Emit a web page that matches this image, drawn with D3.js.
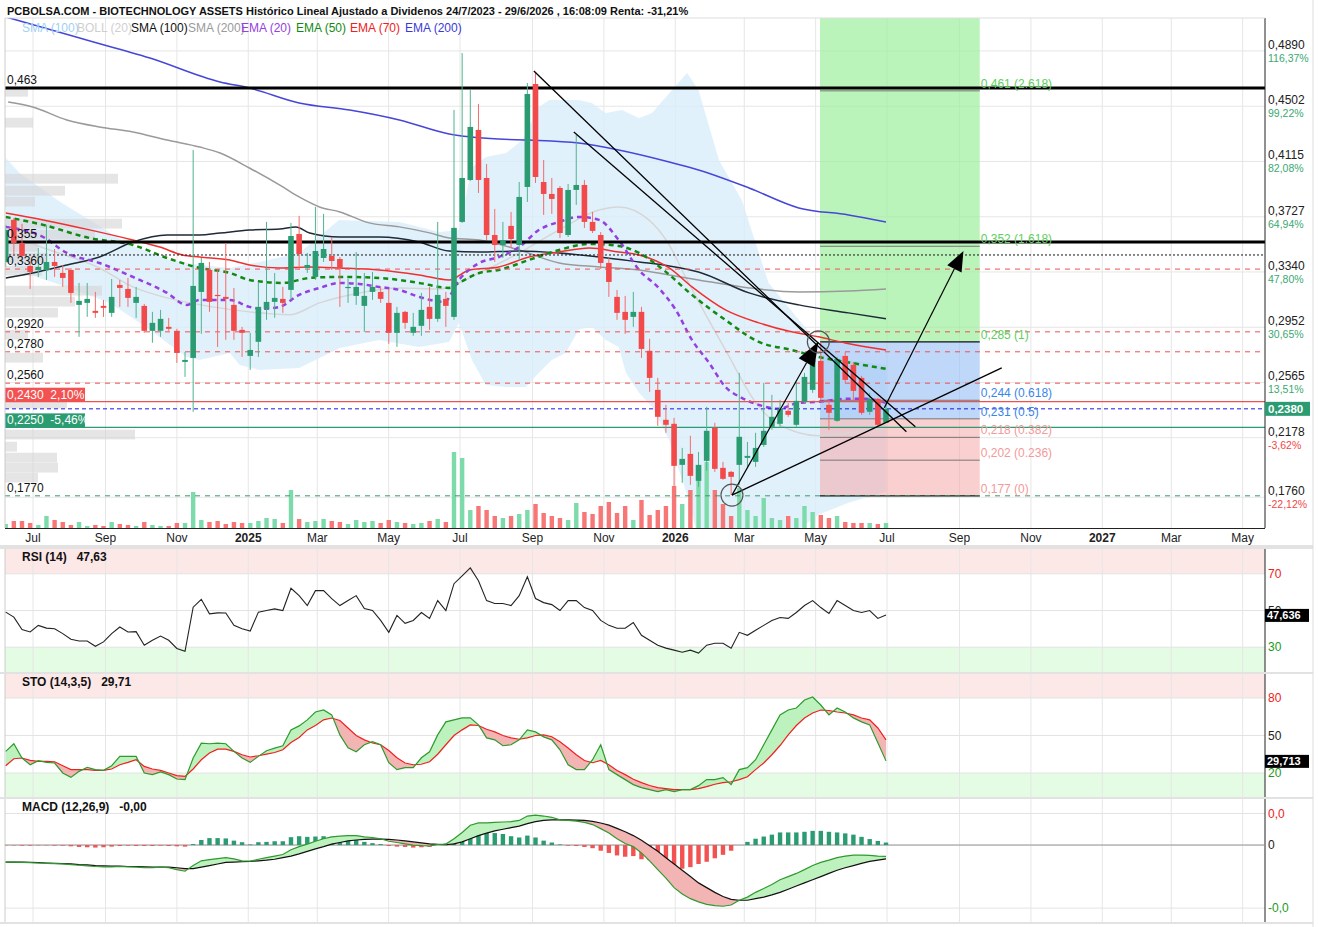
<!DOCTYPE html>
<html>
<head>
<meta charset="utf-8">
<script src="https://cdn.jsdelivr.net/npm/d3@7.9.0/dist/d3.min.js"></script>
<style>
  body { margin: 0; background: #fff; }
  svg { display: block; font-family: "Liberation Sans", Arial, sans-serif; }
</style>
</head>
<body>
<svg id="chart" width="1318" height="927"></svg>
<script>
// weekly candles (index 0 = first visible week, 108 = 29/6/2026)
const opens = [.3410,.3705,.3543,.3382,.3354,.3354,.3410,.3333,.3354,.3109,.3123,.3067,.3102,.3053,.3249,.3221,.3123,.3102,.2927,.2927,.2955,.2927,.2709,.2737,.3200,.3354,.3179,.3165,.3109,.2934,.2751,.2850,.3081,.3130,.3151,.3214,.3606,.3368,.3305,.3438,.3452,.3431,.3228,.3172,.3102,.3200,.3200,.3123,.2913,.3060,.2913,.2962,.3095,.3011,.3151,.3025,.3691,.3985,.4336,.3999,.3599,.3529,.3663,.3529,.3936,.4658,.3971,.3887,.3929,.3599,.3915,.3950,.3691,.3599,.3403,.3165,.3060,.3025,.3060,.2787,.2513,.2303,.2275,.1987,.2064,.1875,.2015,.2247,.1966,.1938,.1987,.2036,.2008,.2127,.2254,.2275,.2366,.2268,.2429,.2513,.2716,.2408,.2296,.2751,.2688,.2597,.2359,.2450,.2282];
const highs = [.3670,.3719,.3677,.3410,.3508,.3670,.3501,.3389,.3368,.3263,.3263,.3200,.3144,.3291,.3284,.3298,.3235,.3116,.3060,.3074,.3018,.2941,.2779,.4195,.3438,.3410,.3354,.3543,.3228,.2955,.2913,.3263,.3691,.3333,.3235,.3684,.3733,.3473,.3796,.3747,.3585,.3445,.3291,.3480,.3333,.3340,.3235,.3221,.3095,.3067,.3053,.3193,.3235,.3691,.3200,.4476,.4875,.4616,.4518,.4097,.3782,.3691,.3761,.3971,.4665,.4735,.4125,.3999,.3943,.3957,.4300,.3985,.3761,.3620,.3438,.3214,.3172,.3200,.3095,.2871,.2597,.2408,.2317,.2106,.2191,.2078,.2394,.2282,.2008,.1945,.2632,.2148,.2212,.2562,.2478,.2443,.2422,.2569,.2632,.2765,.2850,.2443,.2744,.2779,.2709,.2611,.2492,.2457,.2443];
const lows = [.3375,.3459,.3438,.3221,.3305,.3284,.3305,.3235,.3123,.2885,.3025,.3018,.3025,.3025,.3095,.3095,.3018,.2913,.2843,.2885,.2927,.2702,.2604,.2359,.2906,.3060,.2814,.2864,.2864,.2744,.2653,.2744,.3004,.3018,.3053,.3144,.3354,.3333,.3284,.3410,.3354,.3095,.3123,.3109,.2920,.3144,.3123,.2836,.2815,.2941,.2892,.2892,.2934,.2990,.2955,.3004,.3684,.3978,.3894,.3564,.3410,.3438,.3508,.3424,.3831,.3964,.3740,.3747,.3578,.3585,.3810,.3648,.3613,.3361,.3165,.3004,.2906,.2955,.2737,.2499,.2261,.2212,.1833,.1861,.1847,.1833,.1945,.1938,.1882,.1775,.1847,.1973,.1973,.2113,.2233,.2254,.2324,.2254,.2415,.2492,.2443,.2233,.2289,.2562,.2443,.2338,.2338,.2261,.2282];
const closes = [.3635,.3543,.3452,.3340,.3375,.3410,.3382,.3298,.3193,.3137,.3151,.3053,.3088,.3165,.3228,.3158,.3165,.2927,.2983,.3011,.2941,.2772,.2723,.3242,.3403,.3130,.3172,.3151,.2927,.2913,.2793,.3095,.3130,.3158,.3123,.3592,.3466,.3389,.3487,.3501,.3417,.3368,.3235,.3235,.3172,.3235,.3151,.2913,.3053,.2983,.2955,.3074,.3011,.3179,.3102,.3649,.3999,.4357,.3985,.3599,.3529,.3564,.3571,.3866,.4588,.4006,.3887,.3852,.3613,.3915,.3950,.3691,.3628,.3403,.3270,.3053,.3004,.3060,.2800,.2597,.2324,.2268,.1980,.2029,.1910,.1987,.2226,.1959,.1889,.1903,.2184,.2050,.2106,.2226,.2324,.2380,.2338,.2436,.2604,.2723,.2457,.2352,.2730,.2583,.2506,.2352,.2450,.2268,.2380];
const volumes = [4,7,7,5,3,12,8,6,3,6,2,3,2,6,4,3,2,6,3,2,2,5,5,36,8,6,7,4,6,5,5,7,10,9,5,38,9,6,7,9,7,6,4,8,6,7,5,8,6,5,4,5,7,9,6,76,70,18,22,18,12,10,12,14,18,24,15,12,10,8,25,16,14,22,26,15,22,8,28,13,18,22,42,24,38,48,66,38,24,12,40,18,12,30,10,8,12,10,22,16,13,10,12,6,5,5,5,4,5];

// overlays: [week index, price]
const ema200 = [[0,.5128],[9.5,.4973],[17.7,.4840],[26.3,.4672],[29.9,.4630],[36,.4525],[42.2,.4476],[48.3,.4406],[54.4,.4308],[60.5,.4272],[64.2,.4265],[70.3,.4244],[75.2,.4195],[81.4,.4111],[85,.4055],[91.2,.3929],[97.3,.3789],[103.4,.3740],[108,.3691]];
const sma200 = [[0.3,.4532],[3.3,.4497],[7.5,.4406],[11.5,.4357],[15.6,.4322],[19.8,.4265],[23.8,.4216],[26.3,.4174],[29.9,.4069],[34,.3936],[36,.3866],[38.5,.3796],[41,.3761],[44.6,.3684],[48.3,.3656],[52,.3614],[54.4,.3578],[58.1,.3564],[63,.3494],[67.9,.3403],[72.8,.3375],[77.7,.3354],[81.4,.3319],[85,.3284],[91.2,.3228],[97.3,.3200],[103.4,.3207],[108,.3221]];
const sma100 = [[0,.3298],[3.3,.3333],[7.5,.3389],[11.5,.3445],[15.6,.3550],[19.8,.3599],[23.8,.3599],[26.3,.3613],[29.9,.3634],[33.6,.3641],[35.6,.3656],[37.3,.3613],[41,.3585],[45.8,.3585],[50.7,.3550],[54.4,.3487],[58.1,.3480],[63,.3487],[67.9,.3473],[72.8,.3445],[77.7,.3410],[81.4,.3382],[85,.3340],[91.2,.3193],[97.3,.3109],[103.4,.3053],[108,.3011]];
const ema70 = [[0,.3754],[4.6,.3705],[10.3,.3635],[15.6,.3564],[18.9,.3515],[21.7,.3459],[23.8,.3445],[27.5,.3424],[29.9,.3389],[33.6,.3368],[37.3,.3375],[41,.3368],[45.8,.3354],[50.7,.3319],[54.4,.3284],[56.9,.3354],[60.5,.3375],[64.2,.3445],[67.9,.3480],[71.6,.3508],[75.2,.3480],[77.7,.3459],[81.4,.3368],[84.2,.3235],[88.3,.3074],[92.4,.2983],[96.4,.2920],[99.7,.2885],[103,.2842],[108,.2793]];
const ema50 = [[0,.3726],[4.6,.3670],[10.3,.3578],[15.6,.3529],[19.8,.3438],[23.8,.3368],[27.5,.3333],[29.9,.3284],[34,.3263],[37.3,.3298],[41,.3305],[45.8,.3298],[50.7,.3263],[54.4,.3228],[55.6,.3263],[58.1,.3333],[60.5,.3354],[64.2,.3424],[67.9,.3494],[71.6,.3536],[75.2,.3522],[77.7,.3473],[80.7,.3354],[84.2,.3179],[88.3,.3003],[92.4,.2849],[96.4,.2793],[99.7,.2744],[103.8,.2702],[108,.2660]];
const ema20 = [[0,.3656],[4.6,.3585],[7.5,.3473],[11.5,.3403],[15.6,.3305],[19.8,.3193],[22.2,.3109],[23.8,.3144],[27.5,.3144],[29.9,.3095],[31.5,.3081],[33.6,.3095],[36,.3179],[38.5,.3228],[41,.3263],[43.4,.3256],[45.8,.3235],[48.3,.3214],[50.7,.3165],[53.8,.3130],[55.6,.3284],[58.1,.3403],[60.5,.3445],[63,.3515],[65.4,.3634],[67.9,.3691],[70.3,.3726],[72.8,.3705],[75.2,.3564],[77.7,.3354],[80.1,.3228],[82.2,.3074],[84.2,.2863],[86.3,.2702],[88.3,.2534],[90.3,.2457],[92.4,.2408],[94.8,.2380],[97.3,.2422],[99.7,.2429],[103,.2450],[105.5,.2450],[108,.2422]];
const bollMid = [[0,.3600],[5.4,.3494],[11.5,.3368],[15.6,.3235],[19.8,.3158],[25.4,.3095],[29.9,.3060],[34.8,.3039],[38.5,.3123],[43.4,.3193],[48.3,.3228],[53.2,.3221],[54.4,.3235],[58.1,.3333],[63,.3473],[67.9,.3635],[72.8,.3775],[75.2,.3796],[78.9,.3705],[81.4,.3530],[83.4,.3305],[88.3,.2793],[92.4,.2394],[97.3,.2212],[99.7,.2191],[103.4,.2212],[108,.2247]];
const bollUp = [[0,.4139],[1.7,.4034],[6.7,.3831],[10.3,.3705],[15.2,.3529],[20.1,.3424],[23.8,.3389],[27.5,.3368],[31.1,.3410],[36,.3473],[40.9,.3705],[48.3,.3691],[53.2,.3621],[55.6,.3635],[57.2,.4076],[58.9,.4146],[61.4,.4174],[63.4,.4265],[65.4,.4497],[66.7,.4546],[70.3,.4546],[71.9,.4525],[73.6,.4455],[75.6,.4476],[77.7,.4420],[79.3,.4455],[81,.4567],[83.6,.4735],[85,.4616],[87.5,.4125],[90.3,.3845],[93.6,.3263],[97.3,.3004],[99.4,.2863],[103.4,.2723],[108,.2688]];
const bollLow = [[0,.3410],[3,.3319],[7.5,.3235],[12.8,.3123],[17.7,.2934],[19.8,.2843],[22.2,.2744],[23.8,.2723],[27.5,.2772],[28.7,.2688],[31.1,.2653],[36,.2667],[41,.2807],[45.8,.2863],[50.7,.2814],[54.4,.2849],[55.6,.2983],[57.2,.2723],[58.9,.2548],[61.4,.2534],[63.8,.2534],[65.4,.2632],[67,.2723],[68.7,.2772],[70.3,.2934],[71.9,.2955],[73.6,.2863],[75.2,.2814],[76.1,.2632],[77.7,.2492],[79.3,.2394],[81.4,.2162],[83.8,.1742],[85,.1461],[87.5,.1321],[91.2,.1321],[94.8,.1426],[97.3,.1532],[99.7,.1637],[103.4,.1721],[108,.1798]];

// lower panels, one value per week
const rsi = [49.1,46.4,39.6,38.3,41.9,40.4,40.1,37.4,34.3,33.4,33.4,30.5,32.9,37.4,41.0,38.3,38.5,31.1,33.8,36.1,33.8,29.3,27.8,51.8,56.1,48.2,48.7,48.6,41.9,40.1,38.8,49.1,50.0,50.9,50.0,62.1,58.1,52.7,60.8,60.8,56.5,52.7,55.4,58.1,51.1,50.0,44.6,38.1,47.3,43.0,44.6,48.9,45.7,55.4,50.0,64.6,68.9,73.2,66.2,55.4,53.8,53.8,52.7,58.1,68.4,56.5,54.3,53.2,50.0,55.4,55.4,51.6,50.0,44.6,41.9,40.3,40.3,43.5,36.5,33.8,31.1,29.5,28.4,27.3,28.4,26.8,31.1,32.2,32.2,29.5,38.1,36.5,39.2,41.9,44.6,46.2,45.7,48.9,52.7,55.4,51.6,48.4,55.4,52.7,50.0,48.9,50.0,45.7,47.6];
const stoK = [37.3,43.4,32.0,26.6,29.8,28.5,28.0,20.0,16.5,21.3,24.5,22.7,22.1,25.8,33.3,33.3,33.3,20.0,18.7,20.8,18.7,15.2,14.7,32.0,43.9,43.4,43.9,43.4,37.3,32.0,28.5,33.3,37.8,39.9,41.8,54.5,57.7,62.5,68.8,70.4,66.5,50.5,40.2,37.0,42.6,45.0,42.6,28.2,22.7,24.3,24.3,32.2,37.0,50.5,60.9,62.5,64.1,64.1,58.5,48.1,46.5,41.8,42.6,46.5,54.5,52.9,48.9,46.5,38.6,26.6,22.7,22.7,30.6,42.6,22.7,18.7,14.7,10.7,8.3,6.7,5.1,6.7,5.1,6.7,6.7,9.9,14.7,14.7,16.3,10.7,22.7,24.3,30.6,42.6,54.5,66.5,70.4,72.0,78.4,80.8,74.4,66.5,72.0,68.8,64.1,60.9,58.5,44.2,29.7];
const stoD = [25.8,31.4,32.0,30.1,29.3,29.3,29.0,25.8,22.7,22.7,22.7,22.1,22.1,23.2,26.6,28.5,30.6,25.3,23.2,22.1,20.0,17.9,17.3,23.2,30.6,36.0,39.1,39.1,37.3,34.6,32.8,33.8,35.1,36.4,38.6,44.4,48.4,54.5,58,62.5,64,62,56,50,46.5,44,42.6,38,32.2,28,26.6,27,29,35,42.6,50,54.5,58.5,58,55,52.9,50,48.1,47,48.1,50,50.5,49,45,40,34.6,30,28.2,30,26.6,22,18.7,15,12.3,10,8.3,7.5,6.7,6.7,6.7,7.5,9.1,11,12.3,13,14.7,17,22.7,28,34.6,42,50.5,58,64,68,70.4,70,68.8,68,66.5,64,62.5,56,46.5];
// MACD in thousandths
const macd = [-5.4,-5.4,-5.5,-5.6,-5.7,-5.8,-5.9,-6.0,-6.2,-6.4,-6.6,-6.8,-6.9,-6.9,-6.8,-6.9,-7.0,-7.2,-7.2,-7.0,-7.2,-7.8,-8.3,-6.5,-5.0,-4.6,-4.3,-4.0,-4.4,-5.0,-5.1,-4.5,-4.0,-3.5,-3.0,-1.5,-0.5,0.3,1.2,2.0,2.6,2.8,3.0,3.0,2.6,2.4,2.0,1.2,0.8,0.4,0.0,-0.2,-0.3,0.2,0.3,2.0,4.0,6.3,7.0,7.0,7.2,7.3,7.4,7.8,9.2,9.5,9.2,8.8,8.0,7.8,7.6,7.2,6.5,5.2,3.8,2.0,0.5,-0.5,-2.5,-5.0,-7.8,-10.5,-13.5,-15.5,-17.0,-18.0,-18.8,-19.2,-19.4,-19.0,-17.5,-16.5,-15.0,-13.8,-12.5,-11.0,-10.0,-9.0,-7.8,-6.5,-5.5,-4.8,-4.0,-3.5,-3.2,-3.2,-3.3,-3.5,-3.6];
const signal = [-5.4,-5.4,-5.4,-5.5,-5.6,-5.7,-5.8,-5.9,-6.0,-6.2,-6.3,-6.5,-6.6,-6.7,-6.7,-6.8,-6.8,-6.9,-7.0,-7.0,-7.0,-7.2,-7.5,-7.5,-7.0,-6.5,-6.0,-5.5,-5.4,-5.3,-5.2,-5.0,-4.8,-4.5,-4.0,-3.5,-2.8,-2.0,-1.2,-0.5,0.3,0.8,1.3,1.6,1.8,1.9,1.9,1.8,1.6,1.3,1.0,0.7,0.4,0.2,0.1,0.4,1.0,2.0,3.0,3.8,4.5,5.0,5.5,6.0,6.8,7.4,7.8,8.0,8.0,8.0,7.9,7.8,7.5,7.0,6.3,5.3,4.2,3.0,1.5,-0.2,-2.0,-4.0,-6.0,-8.0,-10.0,-12.0,-13.5,-15.0,-16.3,-17.2,-17.5,-17.5,-17.0,-16.5,-15.8,-15.0,-14.0,-13.0,-12.0,-11.0,-10.0,-9.0,-8.0,-7.2,-6.5,-5.8,-5.2,-4.8,-4.4];
const hist = [-0.1,-0.1,-0.2,-0.2,-0.1,-0.1,-0.2,-0.2,-0.4,-0.6,-0.7,-0.8,-0.7,-0.5,-0.3,-0.2,-0.3,-0.3,-0.3,-0.2,-0.3,-0.4,-0.5,0.3,1.6,2.2,2.2,2.1,1.4,0.9,0.2,0.9,1.0,1.2,1.2,2.5,2.8,2.6,2.7,2.8,2.6,2.5,2.2,1.6,1.0,0.6,0.3,-0.3,-0.5,-0.6,-0.8,-0.7,-0.6,0.2,0.5,1.6,3.0,4.3,4.8,4.3,3.8,3.5,2.8,2.4,3.0,2.4,1.4,0.8,0.2,-0.2,-0.3,-0.6,-1.0,-1.8,-2.5,-3.3,-3.7,-3.5,-4.5,-4.8,-5.8,-6.5,-7.5,-7.5,-7.0,-6.0,-5.3,-4.2,-3.1,-1.8,0.0,1.0,2.0,2.7,3.3,4.0,4.0,4.0,4.2,4.5,4.5,4.2,4.0,3.7,3.3,2.6,1.9,1.3,0.8];

// volume-by-price profile on the left
const profilePrices = [.4602,.4385,.3992,.3908,.3831,.3677,.3600,.3515,.3438,.3347,.3207,.3130,.3053,.2898,.2737,.2415,.2198,.2113,.2036,.1966,.1896];
const profileVols = [23,28,113,60,30,117,90,33,43,37,97,70,53,23,38,62,130,12,52,53,33];

// price axis
const priceTicks = [.4890,.4502,.4115,.3727,.3340,.2952,.2565,.2178,.1760];
const priceTickLabels = ["0,4890","0,4502","0,4115","0,3727","0,3340","0,2952","0,2565","0,2178","0,1760"];
const pctLabels = ["116,37%","99,22%","82,08%","64,94%","47,80%","30,65%","13,51%","-3,62%","-22,12%"];
const monthLabels = ["Jan","Feb","Mar","Apr","May","Jun","Jul","Aug","Sep","Oct","Nov","Dec"];

// drawn levels
const thickLevels = [.463,.355];
const thickLabels = ["0,463","0,355"];
const redLevels = [.336,.292,.278,.256];
const redLabels = ["0,3360","0,2920","0,2780","0,2560"];
const dottedLevel = .3459;
const lastPrice = .238;

// fibonacci (low 0,177 -> high 0,285)
const fibRatios = ["2.618","1.618","1","0.618","0.5","0.382","0.236","0"];
const fibPrices = [.461,.352,.285,.244,.231,.218,.202,.177];
const fibSpan = [99.9,119.5];

// hand drawn lines, [week index, price]
const trendFrom = [[64.8,.4749],[69.7,.4322],[89.1,.1775]];
const trendTo = [[110.5,.2219],[111.6,.2254],[122.2,.2667]];
const arrowFrom = [[89.1,.1775],[107.8,.2387]];
const arrowTo = [[99.7,.2850],[117.5,.3487]];
const circles = [[89.1,.1775],[99.7,.2850]];

const svg = d3.select('#chart');
const L = 5, R = 1265;
const mainP = {top: 18, bottom: 528};
const rsiP = {top: 549, bottom: 672};
const stoP = {top: 674, bottom: 797};
const macdP = {top: 799, bottom: 922};

const GREEN = '#2b9c72', RED = '#f24a4a';

const x = d3.scaleLinear().domain([0, 108]).range([5.7, 886]);
const xt = d3.scaleTime().domain([new Date(2024, 6, 1), new Date(2026, 6, 1)]).range([33, 887]);
const y = d3.scaleLinear().domain([0.15443, 0.51209]).range([mainP.bottom, mainP.top]);
const yRsi = d3.scaleLinear().domain([16.5, 83.5]).range([rsiP.bottom, rsiP.top]);
const ySto = d3.scaleLinear().domain([0.8, 99.2]).range([stoP.bottom, stoP.top]);
const yMacd = d3.scaleLinear().domain([-24.4, 14.6]).range([macdP.bottom, macdP.top]);
const yVol = d3.scaleLinear().domain([0, 100]).range([mainP.bottom, mainP.bottom - 100]);

const fmt = d3.format('.4f');
const comma = s => s.replace('.', ',');

svg.append('rect').attr('width', 1318).attr('height', 927).attr('fill', '#fff');

const defs = svg.append('defs');
function clipFor(id, p) {
  defs.append('clipPath').attr('id', id).append('rect')
    .attr('x', L).attr('y', p.top).attr('width', R - L).attr('height', p.bottom - p.top);
  return `url(#${id})`;
}

// month ticks
const months = d3.timeMonth.every(2).range(new Date(2024, 6, 1), new Date(2027, 5, 2));

// ----- panel backgrounds and grids -----
function vgrid(g, p) {
  g.selectAll(null).data(months).join('line')
    .attr('x1', d => xt(d)).attr('x2', d => xt(d))
    .attr('y1', p.top).attr('y2', p.bottom)
    .attr('stroke', '#e6e6e6');
}

// main panel
const gMain = svg.append('g');
const mainClip = clipFor('clipMain', mainP);
vgrid(gMain, mainP);
gMain.selectAll(null).data(priceTicks).join('line')
  .attr('x1', L).attr('x2', R).attr('y1', d => y(d)).attr('y2', d => y(d))
  .attr('stroke', '#e6e6e6');

const plot = gMain.append('g').attr('clip-path', mainClip);

// bollinger band: upper and lower read separately, joined into one polygon
const bandPoly = bollUp.map(d => [x(d[0]), y(d[1])])
  .concat(bollLow.slice().reverse().map(d => [x(d[0]), y(d[1])]));
plot.append('path')
  .attr('d', d3.line()(bandPoly) + 'Z')
  .attr('fill', '#d9edfb').attr('fill-opacity', 0.8);

// fibonacci zones
const fx0 = x(fibSpan[0]), fx1 = x(fibSpan[1]);
plot.append('rect').attr('x', fx0).attr('width', fx1 - fx0)
  .attr('y', mainP.top).attr('height', y(fibPrices[2]) - mainP.top)
  .attr('fill', '#9ef09e').attr('fill-opacity', 0.7);
plot.append('rect').attr('x', fx0).attr('width', fx1 - fx0)
  .attr('y', y(fibPrices[2])).attr('height', y(fibPrices[4]) - y(fibPrices[2]))
  .attr('fill', '#9cc2f5').attr('fill-opacity', 0.65);
plot.append('rect').attr('x', fx0).attr('width', fx1 - fx0)
  .attr('y', y(fibPrices[4])).attr('height', y(fibPrices[7]) - y(fibPrices[4]))
  .attr('fill', '#f5a8a8').attr('fill-opacity', 0.55);
plot.selectAll(null).data(fibPrices).join('line')
  .attr('x1', fx0).attr('x2', fx1).attr('y1', d => y(d)).attr('y2', d => y(d))
  .attr('stroke', (d, i) => (i === 2 || i === 7) ? '#111' : '#777')
  .attr('stroke-width', (d, i) => (i === 2 || i === 7) ? 1.3 : 1);

// volume profile
plot.selectAll(null).data(profilePrices).join('rect')
  .attr('x', L)
  .attr('y', d => y(d + 0.0036))
  .attr('height', d => y(d - 0.0036) - y(d + 0.0036) - 0.5)
  .attr('width', (d, i) => profileVols[i])
  .attr('fill', '#d4d4d4').attr('fill-opacity', 0.6);

// volume bars
plot.selectAll(null).data(volumes).join('rect')
  .attr('x', (d, i) => x(i) - 2.2).attr('width', 4.4)
  .attr('y', d => yVol(d)).attr('height', d => mainP.bottom - yVol(d))
  .attr('fill', (d, i) => closes[i] >= opens[i] ? '#7ddbab' : '#f77676');

// overlay lines
const pl = d3.line().x(d => x(d[0])).y(d => y(d[1])).curve(d3.curveMonotoneX);
plot.append('path').attr('d', pl(bollMid)).attr('fill', 'none').attr('stroke', '#d6d6d6').attr('stroke-width', 1.5);
plot.append('path').attr('d', pl(sma200)).attr('fill', 'none').attr('stroke', '#9a9a9a').attr('stroke-width', 1.5);
plot.append('path').attr('d', pl(sma100)).attr('fill', 'none').attr('stroke', '#1e2a36').attr('stroke-width', 1.5);
plot.append('path').attr('d', pl(ema200)).attr('fill', 'none').attr('stroke', '#4646d8').attr('stroke-width', 1.5);
plot.append('path').attr('d', pl(ema70)).attr('fill', 'none').attr('stroke', '#f03030').attr('stroke-width', 1.5);
plot.append('path').attr('d', pl(ema50)).attr('fill', 'none').attr('stroke', '#128a12').attr('stroke-width', 2.5).attr('stroke-dasharray', '5,4');
plot.append('path').attr('d', pl(ema20)).attr('fill', 'none').attr('stroke', '#9440e0').attr('stroke-width', 2.5).attr('stroke-dasharray', '5,4');

// horizontal levels
plot.selectAll(null).data(redLevels).join('line')
  .attr('x1', L).attr('x2', R).attr('y1', d => y(d)).attr('y2', d => y(d))
  .attr('stroke', '#f05050').attr('stroke-dasharray', '5,5');
plot.append('line').attr('x1', L).attr('x2', R).attr('y1', y(dottedLevel)).attr('y2', y(dottedLevel))
  .attr('stroke', '#111').attr('stroke-dasharray', '2,2');
plot.append('line').attr('x1', L).attr('x2', R).attr('y1', y(.177)).attr('y2', y(.177))
  .attr('stroke', '#3a9a6a').attr('stroke-dasharray', '5,5');
plot.append('line').attr('x1', L).attr('x2', R).attr('y1', y(.243)).attr('y2', y(.243))
  .attr('stroke', '#f05050').attr('stroke-width', 1.2);
plot.append('line').attr('x1', L).attr('x2', R).attr('y1', y(.225)).attr('y2', y(.225))
  .attr('stroke', '#2b9c72').attr('stroke-width', 1.2);
plot.append('line').attr('x1', L).attr('x2', R).attr('y1', y(lastPrice)).attr('y2', y(lastPrice))
  .attr('stroke', '#1a1ae0').attr('stroke-dasharray', '4,3');
plot.selectAll(null).data(thickLevels).join('line')
  .attr('x1', L).attr('x2', R).attr('y1', d => y(d)).attr('y2', d => y(d))
  .attr('stroke', '#000').attr('stroke-width', 3);

// candles
const cg = plot.append('g');
cg.selectAll(null).data(opens).join('line')
  .attr('x1', (d, i) => x(i)).attr('x2', (d, i) => x(i))
  .attr('y1', (d, i) => y(highs[i])).attr('y2', (d, i) => y(lows[i]))
  .attr('stroke', (d, i) => closes[i] >= opens[i] ? '#4fb38d' : '#f56b6b');
cg.selectAll(null).data(opens).join('rect')
  .attr('x', (d, i) => x(i) - 2.8).attr('width', 5.6)
  .attr('y', (d, i) => y(Math.max(d, closes[i])))
  .attr('height', (d, i) => Math.max(1.2, Math.abs(y(d) - y(closes[i]))))
  .attr('fill', (d, i) => closes[i] >= d ? GREEN : RED);

// trend lines and arrows
plot.selectAll(null).data(trendFrom).join('line')
  .attr('x1', d => x(d[0])).attr('y1', d => y(d[1]))
  .attr('x2', (d, i) => x(trendTo[i][0])).attr('y2', (d, i) => y(trendTo[i][1]))
  .attr('stroke', '#000').attr('stroke-width', 1.3);
arrowFrom.forEach((d, i) => {
  const x1 = x(d[0]), y1 = y(d[1]), x2 = x(arrowTo[i][0]), y2 = y(arrowTo[i][1]);
  const a = Math.atan2(y2 - y1, x2 - x1);
  const len = i === 0 ? 24 : 20, wid = i === 0 ? 9 : 8;
  const bx = x2 - len * Math.cos(a), by = y2 - len * Math.sin(a);
  plot.append('line').attr('x1', x1).attr('y1', y1).attr('x2', bx).attr('y2', by)
    .attr('stroke', '#000').attr('stroke-width', 1.2);
  const pts = [[x2, y2],
    [bx + wid * Math.sin(a), by - wid * Math.cos(a)],
    [bx - wid * Math.sin(a), by + wid * Math.cos(a)]];
  plot.append('path').attr('d', d3.line()(pts) + 'Z').attr('fill', '#000');
});
plot.selectAll(null).data(circles).join('circle')
  .attr('cx', d => x(d[0])).attr('cy', d => y(d[1])).attr('r', 11)
  .attr('fill', 'none').attr('stroke', '#555').attr('stroke-width', 1.2);

// fib labels
const fibColors = ['#5ccf5c','#5ccf5c','#5ccf5c','#3a86e8','#3a86e8','#f39a9a','#f39a9a','#f39a9a'];
gMain.selectAll(null).data(fibPrices).join('text')
  .attr('x', fx1 + 1).attr('y', d => y(d) - 3)
  .attr('font-size', 12).attr('fill', (d, i) => fibColors[i])
  .text((d, i) => `${comma(d3.format('.3f')(d))} (${fibRatios[i]})`);

// left level labels
const leftLab = gMain.append('g').attr('font-size', 12).attr('fill', '#111');
leftLab.selectAll(null).data(thickLevels).join('text')
  .attr('x', 7).attr('y', d => y(d) - 4).text((d, i) => thickLabels[i]);
leftLab.selectAll(null).data(redLevels).join('text')
  .attr('x', 7).attr('y', d => y(d) - 4).text((d, i) => redLabels[i]);
leftLab.append('text').attr('x', 7).attr('y', y(.177) - 4).text('0,1770');
function tag(p, txt, col) {
  const g = gMain.append('g');
  g.append('rect').attr('x', L).attr('y', y(p) - 14).attr('width', 80).attr('height', 14).attr('fill', col);
  g.append('text').attr('x', 7).attr('y', y(p) - 3).attr('font-size', 12).attr('fill', '#fff')
    .attr('xml:space', 'preserve').text(txt);
}
tag(.243, '0,2430  2,10%', '#f25252');
tag(.225, '0,2250  -5,46%', '#2b9c72');

// frame
gMain.append('line').attr('x1', L).attr('x2', L).attr('y1', mainP.top).attr('y2', mainP.bottom).attr('stroke', '#ccc');
gMain.append('line').attr('x1', R).attr('x2', R).attr('y1', mainP.top).attr('y2', mainP.bottom).attr('stroke', '#222');
gMain.append('line').attr('x1', L).attr('x2', R).attr('y1', mainP.top).attr('y2', mainP.top).attr('stroke', '#ddd');

// right price axis
const ax = svg.append('g');
ax.selectAll(null).data(priceTicks).join('text')
  .attr('x', 1268).attr('y', d => y(d) - 2).attr('font-size', 12).attr('fill', '#222')
  .text((d, i) => priceTickLabels[i]);
ax.selectAll(null).data(priceTicks).join('text')
  .attr('x', 1268).attr('y', d => y(d) + 11).attr('font-size', 10.5)
  .attr('fill', (d, i) => pctLabels[i].startsWith('-') ? '#f04848' : '#3aa872')
  .text((d, i) => pctLabels[i]);
ax.append('rect').attr('x', 1265).attr('y', y(lastPrice) - 7).attr('width', 45).attr('height', 14).attr('fill', '#2b9c72');
ax.append('text').attr('x', 1268).attr('y', y(lastPrice) + 4).attr('font-size', 11.5).attr('font-weight', 'bold')
  .attr('fill', '#fff').text(comma(fmt(lastPrice)));

// x axis
svg.append('line').attr('x1', L).attr('x2', R).attr('y1', mainP.bottom + 0.5).attr('y2', mainP.bottom + 0.5).attr('stroke', '#222');
svg.append('rect').attr('x', 0).attr('y', 545).attr('width', 1313).attr('height', 4).attr('fill', '#e2e2e2');
svg.selectAll(null).data(months).join('text')
  .attr('x', d => xt(d)).attr('y', 542).attr('text-anchor', 'middle')
  .attr('font-size', 12).attr('font-weight', d => d.getMonth() === 0 ? 'bold' : 'normal')
  .attr('fill', '#222')
  .text(d => d.getMonth() === 0 ? d.getFullYear() : monthLabels[d.getMonth()]);

// ----- lower panels -----
function panel(p, id, bands, levels, levelLabels, levelColors, yS, title) {
  const g = svg.append('g');
  const clip = clipFor(id, p);
  bands.forEach(b => {
    g.append('rect').attr('x', L).attr('width', R - L)
      .attr('y', yS(b[1])).attr('height', yS(b[0]) - yS(b[1])).attr('fill', b[2]);
  });
  vgrid(g, p);
  g.selectAll(null).data(levels).join('line')
    .attr('x1', L).attr('x2', R).attr('y1', d => yS(d)).attr('y2', d => yS(d))
    .attr('stroke', '#e3e3e3');
  g.selectAll(null).data(levels).join('text')
    .attr('x', 1268).attr('y', d => yS(d) + 4).attr('font-size', 12)
    .attr('fill', (d, i) => levelColors[i]).text((d, i) => levelLabels[i]);
  g.append('line').attr('x1', R).attr('x2', R).attr('y1', p.top).attr('y2', p.bottom).attr('stroke', '#222');
  g.append('line').attr('x1', L).attr('x2', L).attr('y1', p.top).attr('y2', p.bottom).attr('stroke', '#ccc');
  g.append('rect').attr('x', 0).attr('y', p.bottom).attr('width', 1313).attr('height', 2).attr('fill', '#e2e2e2');
  const inner = g.append('g').attr('clip-path', clip);
  g.append('text').attr('x', 22).attr('y', p.top + 12).attr('font-size', 12).attr('font-weight', 'bold')
    .attr('fill', '#111').attr('xml:space', 'preserve').text(title);
  return {g, inner};
}
function valueBox(g, yy, txt) {
  g.append('rect').attr('x', 1265).attr('y', yy - 6).attr('width', 44).attr('height', 13).attr('fill', '#000');
  g.append('text').attr('x', 1267).attr('y', yy + 4).attr('font-size', 11).attr('font-weight', 'bold')
    .attr('fill', '#fff').text(txt);
}
function fillBetween(inner, id, p, a, b, yS, upCol, downCol) {
  defs.append('clipPath').attr('id', id + 'up').append('path')
    .attr('d', d3.area().x((d, i) => x(i)).y0(p.top).y1(d => yS(d))(b));
  defs.append('clipPath').attr('id', id + 'dn').append('path')
    .attr('d', d3.area().x((d, i) => x(i)).y0(d => yS(d)).y1(p.bottom)(b));
  const between = d3.area().x((d, i) => x(i)).y0((d, i) => yS(b[i])).y1(d => yS(d));
  inner.append('path').attr('d', between(a)).attr('fill', upCol).attr('clip-path', `url(#${id}up)`);
  inner.append('path').attr('d', between(a)).attr('fill', downCol).attr('clip-path', `url(#${id}dn)`);
}

// RSI
const rp = panel(rsiP, 'clipRsi', [[70, 83.5, '#fde8e8'], [16.5, 30, '#e4fbe4']],
  [70, 50, 30], ['70', '50', '30'], ['#f02020', '#222', '#1a9a1a'], yRsi, 'RSI (14)   47,63');
rp.inner.append('path').attr('d', d3.line().x((d, i) => x(i)).y(d => yRsi(d))(rsi))
  .attr('fill', 'none').attr('stroke', '#222').attr('stroke-width', 1.1);
valueBox(rp.g, yRsi(rsi[rsi.length - 1]), '47,636');

// STO
const sp = panel(stoP, 'clipSto', [[80, 99.2, '#fde8e8'], [0.8, 20, '#e4fbe4']],
  [80, 50, 20], ['80', '50', '20'], ['#f02020', '#222', '#1a9a1a'], ySto, 'STO (14,3,5)   29,71');
fillBetween(sp.inner, 'sto', stoP, stoK, stoD, ySto, '#bdf1bd', '#f3b4b4');
sp.inner.append('path').attr('d', d3.line().x((d, i) => x(i)).y(d => ySto(d))(stoD))
  .attr('fill', 'none').attr('stroke', '#f02020').attr('stroke-width', 1.2);
sp.inner.append('path').attr('d', d3.line().x((d, i) => x(i)).y(d => ySto(d))(stoK))
  .attr('fill', 'none').attr('stroke', '#2e9a2e').attr('stroke-width', 1.2);
valueBox(sp.g, ySto(stoK[stoK.length - 1]), '29,713');

// MACD
const mp = panel(macdP, 'clipMacd', [], [10, 0, -20], ['0,0', '0', '-0,0'], ['#f02020', '#222', '#1a9a1a'], yMacd, 'MACD (12,26,9)   -0,00');
mp.inner.append('line').attr('x1', L).attr('x2', R).attr('y1', yMacd(0)).attr('y2', yMacd(0)).attr('stroke', '#999');
mp.inner.selectAll(null).data(hist).join('rect')
  .attr('x', (d, i) => x(i) - 2.2).attr('width', 4.4)
  .attr('y', d => Math.min(yMacd(d), yMacd(0)))
  .attr('height', d => Math.abs(yMacd(d) - yMacd(0)))
  .attr('fill', d => d >= 0 ? '#2b9c72' : '#f25252');
fillBetween(mp.inner, 'macd', macdP, macd, signal, yMacd, '#bdf1bd', '#f3b4b4');
mp.inner.append('path').attr('d', d3.line().x((d, i) => x(i)).y(d => yMacd(d))(signal))
  .attr('fill', 'none').attr('stroke', '#111').attr('stroke-width', 1.2);
mp.inner.append('path').attr('d', d3.line().x((d, i) => x(i)).y(d => yMacd(d))(macd))
  .attr('fill', 'none').attr('stroke', '#2e9a2e').attr('stroke-width', 1.2);

// outer right border
svg.append('line').attr('x1', 1313).attr('x2', 1313).attr('y1', 0).attr('y2', 927).attr('stroke', '#ddd');

// title and legend
svg.append('text').attr('x', 7).attr('y', 15).attr('font-size', 11).attr('font-weight', 'bold').attr('fill', '#111')
  .text('PCBOLSA.COM - BIOTECHNOLOGY ASSETS Histórico Lineal Ajustado a Dividenos 24/7/2023 - 29/6/2026 , 16:08:09 Renta: -31,21%');
const legendNames = ['SMA (100)', 'BOLL (20)', 'SMA (100)', 'SMA (200)', 'EMA (20)', 'EMA (50)', 'EMA (70)', 'EMA (200)'];
const legendColors = ['#9fd0f5', '#cfcfcf', '#111', '#9a9a9a', '#9440e0', '#128a12', '#f02020', '#3a3ad8'];
const legendX = [22, 77, 131, 188, 241, 296, 350, 405];
svg.selectAll(null).data(legendNames).join('text')
  .attr('x', (d, i) => legendX[i]).attr('y', 32).attr('font-size', 12)
  .attr('fill', (d, i) => legendColors[i]).text(d => d);
</script>
</body>
</html>
